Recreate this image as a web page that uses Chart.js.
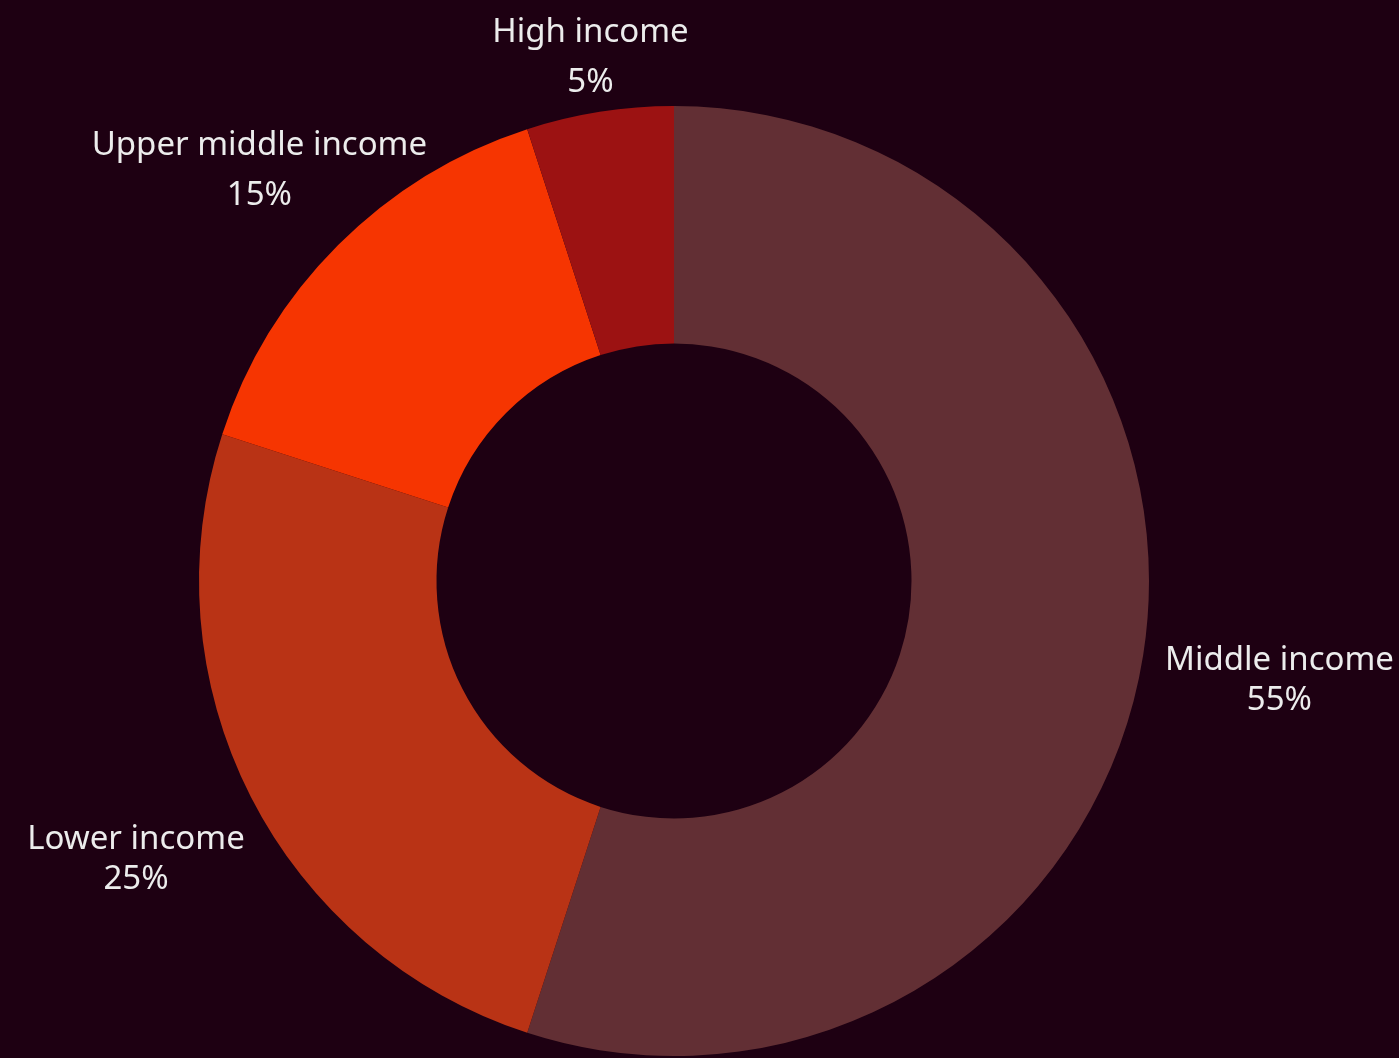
<!DOCTYPE html>
<html>
<head>
<meta charset="utf-8">
<script src="https://cdn.jsdelivr.net/npm/chart.js@4.4.1/dist/chart.umd.min.js"></script>
<style>
  html, body { margin: 0; padding: 0; background: #1e0012; }
  #wrap { width: 1399px; height: 1058px; }
</style>
</head>
<body>
<div id="wrap"><canvas id="donutChart"></canvas></div>
<script>
// data
const categories = ['Middle income', 'Lower income', 'Upper middle income', 'High income'];
const shares = [55, 25, 15, 5];
const sliceColors = ['#622f34', '#b93315', '#f63501', '#9c1212'];

// draws "name / xx%" outside each slice, centred along the slice's mid angle
const outsideLabels = {
  id: 'outsideLabels',
  afterDatasetsDraw(chart) {
    const ctx = chart.ctx;
    const meta = chart.getDatasetMeta(0);
    const total = shares.reduce((a, b) => a + b, 0);
    ctx.save();
    ctx.font = '33px "Noto Sans", "Open Sans", sans-serif';
    ctx.fillStyle = '#ececec';
    ctx.textAlign = 'center';
    ctx.textBaseline = 'middle';
    meta.data.forEach((arc, i) => {
      const p = arc.getProps(['x', 'y', 'startAngle', 'endAngle', 'outerRadius'], true);
      const mid = (p.startAngle + p.endAngle) / 2;
      const dx = Math.cos(mid);
      const dy = Math.sin(mid);
      const lines = [categories[i], Math.round(shares[i] / total * 100) + '%'];
      // labels above the ring sit a bit more spread out
      const gap = dy < 0 ? 50 : 40;
      // wider text sits further out on the sides
      const d = p.outerRadius * (1.093 + 0.2 * Math.abs(dx));
      const cx = p.x + dx * d;
      const cy = p.y + dy * d + 4;
      ctx.fillText(lines[0], cx, cy - gap / 2);
      ctx.fillText(lines[1], cx, cy + gap / 2);
    });
    ctx.restore();
  }
};

new Chart(document.getElementById('donutChart').getContext('2d'), {
  type: 'doughnut',
  data: {
    labels: categories,
    datasets: [{
      data: shares,
      backgroundColor: sliceColors,
      borderWidth: 0
    }]
  },
  options: {
    responsive: true,
    maintainAspectRatio: false,
    animation: false,
    cutout: '50%',
    layout: { padding: { top: 106, bottom: 2, left: 199, right: 250 } },
    plugins: {
      legend: { display: false },
      tooltip: { enabled: false }
    }
  },
  plugins: [outsideLabels]
});
</script>
</body>
</html>
